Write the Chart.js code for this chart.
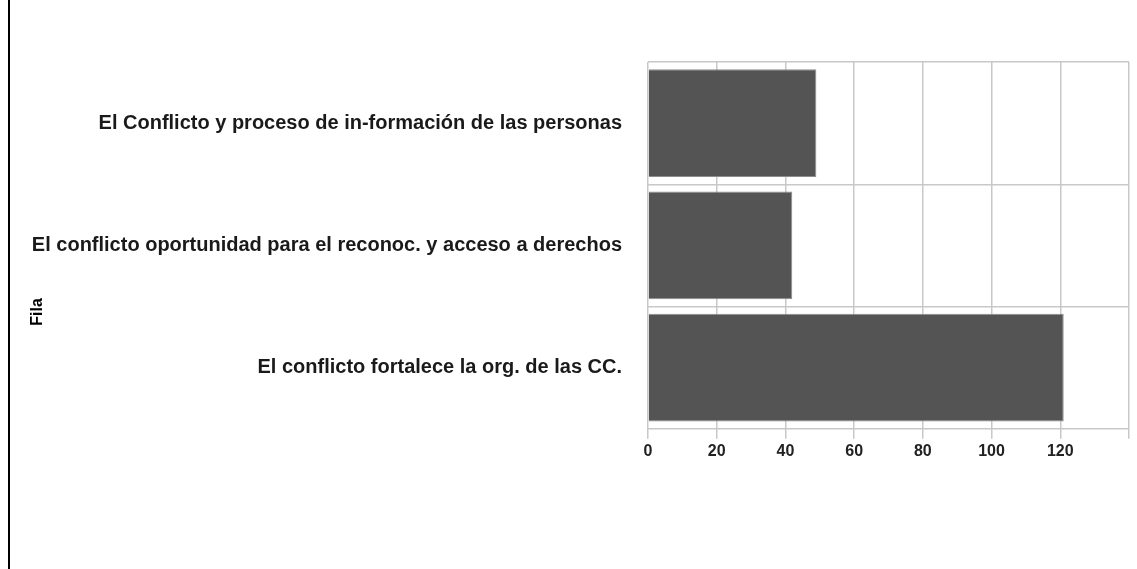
<!DOCTYPE html>
<html>
<head>
<meta charset="utf-8">
<script src="https://cdn.jsdelivr.net/npm/chart.js@4.4.1/dist/chart.umd.min.js"></script>
<style>
  html, body { margin: 0; padding: 0; background: #fff; }
  #wrap { position: absolute; left: 8px; top: 0; width: 1129px; height: 569px; border-left: 2px solid #000; box-sizing: border-box; }
</style>
</head>
<body>
<div id="wrap"><canvas id="grafico"></canvas></div>
<script>
// Categorías (filas) y valores
const filas = [
  'El Conflicto y proceso de in-formación de las personas',
  'El conflicto oportunidad para el reconoc. y acceso a derechos',
  'El conflicto fortalece la org. de las CC.'
];
const valores = [49, 42, 121];
const ejeMax = 140;
const pasoEje = 20;
const tituloEje = 'Fila';

// El título del eje va más abajo que el centro, como en el original
const tituloFila = {
  id: 'tituloFila',
  afterDraw(chart) {
    const c = chart.ctx;
    c.save();
    c.translate(28, 312);
    c.rotate(-Math.PI / 2);
    c.font = 'bold 16px "Liberation Sans", Arial';
    c.fillStyle = '#000';
    c.textAlign = 'center';
    c.textBaseline = 'middle';
    c.fillText(tituloEje, 0, 0);
    c.restore();
  }
};

const ctx = document.getElementById('grafico').getContext('2d');

new Chart(ctx, {
  type: 'bar',
  data: {
    labels: filas,
    datasets: [{
      label: tituloEje,
      data: valores,
      backgroundColor: '#545454',
      borderColor: '#8c8c8c',
      borderWidth: 1,
      barPercentage: 0.88,
      categoryPercentage: 1
    }]
  },
  options: {
    indexAxis: 'y',
    responsive: true,
    maintainAspectRatio: false,
    animation: false,
    layout: { padding: { top: 62, right: 8, bottom: 105, left: 0 } },
    plugins: {
      legend: { display: false },
      tooltip: { enabled: false }
    },
    scales: {
      x: {
        min: 0,
        max: ejeMax,
        border: { display: false },
        grid: { color: '#c8c8c8', lineWidth: 1.5, tickLength: 10 },
        ticks: {
          stepSize: pasoEje,
          color: '#222',
          font: { family: 'Liberation Sans, Arial', size: 16, weight: 'bold' },
          callback: (v) => (v === ejeMax ? '' : v)
        }
      },
      y: {
        border: { display: false },
        grid: { color: '#c8c8c8', lineWidth: 1.5, offset: true, drawTicks: false },
        afterFit: (escala) => { escala.width = 638; },
        ticks: {
          color: '#1a1a1a',
          padding: 26,
          font: { family: 'Liberation Sans, Arial', size: 20, weight: 'bold' }
        }
      }
    }
  },
  plugins: [tituloFila]
});
</script>
</body>
</html>
